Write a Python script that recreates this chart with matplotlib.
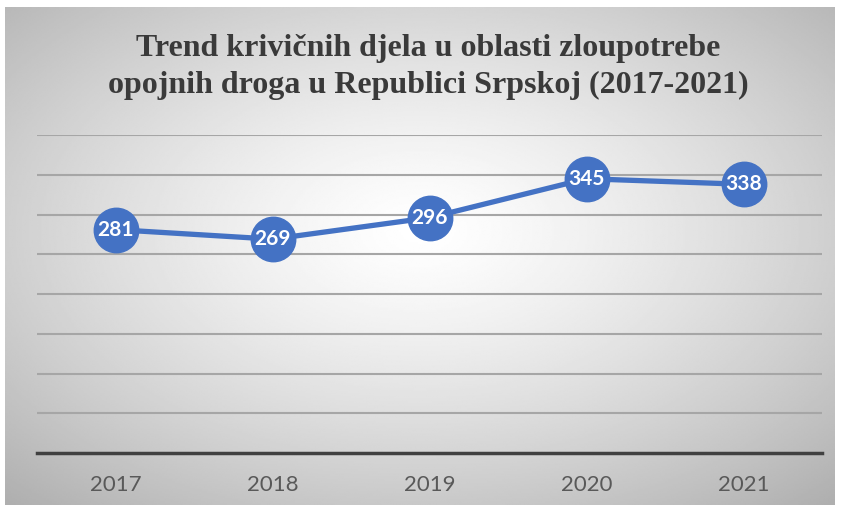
import numpy as np
import matplotlib
matplotlib.use("Agg")
import matplotlib.pyplot as plt

years = ["2017", "2018", "2019", "2020", "2021"]
values = [281, 269, 296, 345, 338]
title = "Trend krivičnih djela u oblasti zloupotrebe\nopojnih droga u Republici Srpskoj (2017-2021)"

W, H = 841, 513
fig = plt.figure(figsize=(W / 100, H / 100), dpi=100)
fig.patch.set_facecolor("white")

# radial gradient background panel
bx0, by0, bx1, by1 = 5, 7, 835, 505
bg = fig.add_axes([bx0 / W, 1 - by1 / H, (bx1 - bx0) / W, (by1 - by0) / H], zorder=0)
yy, xx = np.mgrid[0:1:300j, 0:1:500j]
r = np.sqrt(((xx - 0.5) / 0.75) ** 2 + ((yy - 0.45) / 0.75) ** 2)
img = 1.0 - 0.32 * np.clip(r, 0, 1) ** 1.3
bg.imshow(img, cmap="gray", vmin=0, vmax=1, aspect="auto", extent=[0, 1, 0, 1], interpolation="bilinear")
bg.axis("off")

ax = fig.add_axes([37 / W, 1 - 453 / H, (822 - 37) / W, (453 - 135) / H], zorder=1)
ax.patch.set_alpha(0)
x = np.arange(len(years))
ax.set_xlim(-0.5, len(years) - 0.5)
ax.set_ylim(0, 400)
ax.set_yticks(np.arange(50, 401, 50))
ax.yaxis.grid(True, color="#a6a6a6", lw=1.5)
ax.set_axisbelow(True)
for s in ["top", "right", "left"]:
    ax.spines[s].set_visible(False)
ax.spines["bottom"].set_color("#404040")
ax.spines["bottom"].set_linewidth(2.5)
ax.tick_params(axis="y", left=False, labelleft=False)
ax.tick_params(axis="x", length=0, pad=16)
ax.set_xticks(x)
ax.set_xticklabels(years, fontsize=16, color="#595959", family="Lato")

ax.plot(x, values, color="#4472C4", lw=3.8, marker="o", ms=32, mfc="#4472C4",
        mec="#4472C4", zorder=3, clip_on=False)
for xi, v in zip(x, values):
    ax.text(xi, v, str(v), ha="center", va="center", color="white",
            fontsize=15, fontweight="bold", family="Lato", zorder=4)

fig.text(428 / W, 1 - 67 / H, title, ha="center", va="center", fontsize=23,
         fontweight="bold", family="Liberation Serif", color="#3a3a3a", linespacing=1.33)

fig.savefig("out.png", dpi=100)
